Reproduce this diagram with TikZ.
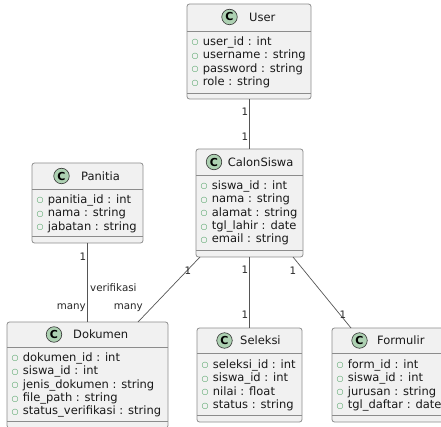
\documentclass[tikz,border=0pt]{standalone}
\usepackage{fontspec}
\setmainfont{DejaVu Sans}
\usepackage{xcolor}
\usetikzlibrary{calc}

\definecolor{boxfill}{HTML}{F1F1F1}
\definecolor{boxline}{HTML}{8C8C8C}
\definecolor{iconfill}{HTML}{ADD1B2}
\definecolor{attrgreen}{HTML}{3E9A55}
\definecolor{linkline}{HTML}{555555}

\newcommand{\ao}{\raisebox{0.4pt}{\fontsize{8}{8}\selectfont\textcolor{attrgreen}{○}}\hspace{4.2pt}}

\tikzset{
  classbox/.style={draw=boxline, fill=boxfill, line width=0.8pt, rounded corners=2.5pt, inner sep=0pt, outer sep=0pt, anchor=north west},
  sepline/.style={draw=boxline, line width=0.8pt},
  classicon/.style={circle, draw=black!80, fill=iconfill, line width=0.6pt, minimum size=15.5pt, inner sep=0pt, font=\fontsize{11}{11}\selectfont\bfseries},
  classname/.style={anchor=west, inner sep=0pt, font=\fontsize{11.5}{13}\selectfont, text=black!90},
  attrs/.style={anchor=north west, align=left, inner sep=0pt, font=\fontsize{11.5}{13.4}\selectfont, text=black!90},
  link/.style={draw=linkline, line width=0.7pt},
  mult/.style={inner sep=0pt, font=\fontsize{10.3}{12}\selectfont, text=black!85}
}

\begin{document}
\begin{tikzpicture}[x=1pt, y=-1pt]
	\useasboundingbox (0,0) rectangle (441,427);
	\clip (0,0) rectangle (441,427);

	\node[classbox, minimum width=124, minimum height=95] (user) at (187,4) {};
	\draw[sepline] (187,31) -- (311,31);
	\draw[sepline] (187,93) -- (311,93);
	\node[classicon] (user-i) at (229.5,17) {C};
	\node[classname] (user-t) at (249,17) {User};
	\node[attrs] (user-a) at (191.5,36.4) {\ao user\_id : int\\ \ao username : string\\ \ao password : string\\ \ao role : string};

	\node[classbox, minimum width=111, minimum height=80] (pan) at (32,163) {};
	\draw[sepline] (32,189) -- (143,189);
	\draw[sepline] (32,236) -- (143,236);
	\node[classicon] (pan-i) at (61.5,176) {C};
	\node[classname] (pan-t) at (81,176) {Panitia};
	\node[attrs] (pan-a) at (36.5,194.4) {\ao panitia\_id : int\\ \ao nama : string\\ \ao jabatan : string};

	\node[classbox, minimum width=107, minimum height=108] (calon) at (196,149) {};
	\draw[sepline] (196,175) -- (303,175);
	\draw[sepline] (196,250) -- (303,250);
	\node[classicon] (calon-i) at (214,162) {C};
	\node[classname] (calon-t) at (227.7,162) {CalonSiswa};
	\node[attrs] (calon-a) at (200.5,180.4) {\ao siswa\_id : int\\ \ao nama : string\\ \ao alamat : string\\ \ao tgl\_lahir : date\\ \ao email : string};

	\node[classbox, minimum width=161, minimum height=106] (dok) at (7,322) {};
	\draw[sepline] (7,347) -- (168,347);
	\draw[sepline] (7,421) -- (168,421);
	\node[classicon] (dok-i) at (54,334.5) {C};
	\node[classname] (dok-t) at (73,334.5) {Dokumen};
	\node[attrs] (dok-a) at (11.5,352.4) {\ao dokumen\_id : int\\ \ao siswa\_id : int\\ \ao jenis\_dokumen : string\\ \ao file\_path : string\\ \ao status\_verifikasi : string};

	\node[classbox, minimum width=105, minimum height=94] (sel) at (197,328) {};
	\draw[sepline] (197,353) -- (302,353);
	\draw[sepline] (197,415) -- (302,415);
	\node[classicon] (sel-i) at (224.5,340.5) {C};
	\node[classname] (sel-t) at (240,340.5) {Seleksi};
	\node[attrs] (sel-a) at (201.5,359.4) {\ao seleksi\_id : int\\ \ao siswa\_id : int\\ \ao nilai : float\\ \ao status : string};

	\node[classbox, minimum width=114, minimum height=94] (form) at (332,328) {};
	\draw[sepline] (332,353) -- (446,353);
	\draw[sepline] (332,415) -- (446,415);
	\node[classicon] (form-i) at (359.5,340.5) {C};
	\node[classname] (form-t) at (377,340.5) {Formulir};
	\node[attrs] (form-a) at (336.5,359.4) {\ao form\_id : int\\ \ao siswa\_id : int\\ \ao jurusan : string\\ \ao tgl\_daftar : date};

	\draw[link] (user.south) -- (user.south |- calon.north);
	\draw[link] (pan.south) -- (pan.south |- dok.north);
	\draw[link] ($(calon.south west)+(4,0)$) -- ($(dok.north east)+(-30,0)$);
	\draw[link] (calon.south) -- (calon.south |- sel.north);
	\draw[link] ($(calon.south east)+(-10,0)$) -- ($(form.north west)+(19,0)$);

	\node[mult] (m-user) at (245,112) {1};
	\node[mult] (m-calon-u) at (245,137) {1};
	\node[mult] (m-pan) at (83,257) {1};
	\node[mult, anchor=west] (m-verif) at (90,288) {verifikasi};
	\node[mult, anchor=east] (m-dok-p) at (86,308) {many};
	\node[mult, anchor=east] (m-dok-c) at (143,308) {many};
	\node[mult] (m-calon-d) at (188,271) {1};
	\node[mult] (m-calon-s) at (245,270) {1};
	\node[mult] (m-sel) at (245,315) {1};
	\node[mult] (m-calon-f) at (293,271) {1};
	\node[mult] (m-form) at (343,315) {1};
\end{tikzpicture}
\end{document}
